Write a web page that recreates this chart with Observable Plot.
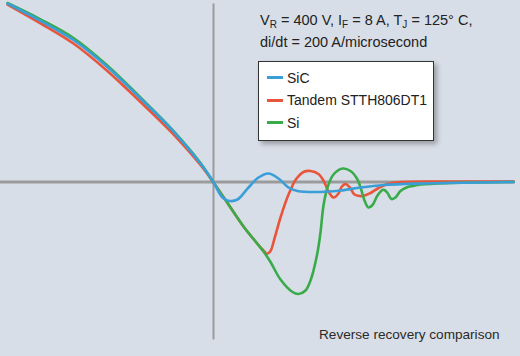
<!DOCTYPE html>
<html>
<head>
<meta charset="utf-8">
<script src="https://cdn.jsdelivr.net/npm/d3@7"></script>
<script src="https://cdn.jsdelivr.net/npm/@observablehq/plot@0.6"></script>
<style>
  html, body { margin: 0; padding: 0; background: #d8dee7; }
  #wrap { position: relative; width: 520px; height: 356px; background: #d8dee7; overflow: hidden;
          font-family: "Liberation Sans", Arial, sans-serif; color: #222; }
  #wrap svg { position: absolute; left: 0; top: 0; background: transparent; }
  .note { position: absolute; left: 260px; font-size: 14.5px; line-height: 22px; white-space: nowrap; }
  .note sub { font-size: 10px; vertical-align: -3px; line-height: 0; }
  #legend { position: absolute; left: 258px; top: 61px; width: 174px; height: 78px; background: #fff;
            border: 1.5px solid #333; box-shadow: 3px 3px 5px rgba(0,0,0,0.3); }
  .item { position: absolute; left: 8px; font-size: 14px; line-height: 18px; white-space: nowrap; }
  .sw { display: inline-block; width: 16px; height: 3px; vertical-align: middle; margin-right: 4px; position: relative; top: -1px; }
  #caption { position: absolute; left: 319px; top: 325px; font-size: 13.6px; line-height: 20px; color: #2a2a2a; white-space: nowrap; }
</style>
</head>
<body>
<div id="wrap"></div>
<script>
// Series names and colours
const seriesNames = ["SiC", "Tandem STTH806DT1", "Si"];
const seriesColors = ["#3a9fd8", "#e8553a", "#3aab4a"];

// Time (ns) and current (A)
const sicT = [-51.5, -43.25, -35, -26.75, -18.5, -10.25, -3.25, -0.25, 2.25, 4, 6, 8.75, 11.25, 13.75, 16.25, 18.75, 21, 25.5, 31.75, 36.75, 42.5, 51.75, 75];
const sicI = [8.925, 8.06, 7.1, 5.79, 4.225, 2.585, 0.925, 0.075, -0.775, -0.95, -0.875, -0.275, 0.225, 0.425, 0.175, -0.275, -0.45, -0.5, -0.425, -0.275, -0.15, -0.075, 0];

const tandemT = [-51.5, -43.25, -35, -26.75, -18.5, -10.25, -3.25, 0, 3.75, 7.5, 10.5, 12.25, 13.375, 14.25, 15.25, 16.75, 18.75, 20.75, 22.5, 24.25, 26.25, 27.5, 28.75, 30, 31.25, 32, 33, 34, 35.25, 37.25, 39.25, 41.25, 43.5, 46.75, 59.25, 75];
const tandemI = [8.875, 7.935, 6.925, 5.59, 4.05, 2.435, 0.85, -0.025, -1.125, -2.225, -2.975, -3.375, -3.59, -3.45, -2.825, -1.775, -0.625, 0.175, 0.5, 0.55, 0.4, 0.075, -0.475, -0.775, -0.575, -0.25, -0.1, -0.25, -0.625, -0.7, -0.55, -0.3, -0.1, 0, 0.025, 0.025];

const siT = [-51.5, -43.25, -35, -26.75, -18.5, -10.25, -3.25, 0, 3.75, 7.5, 10.5, 12.5, 14.25, 16.75, 19.75, 21.25, 23, 24.25, 25, 26, 26.75, 27.5, 28.5, 30, 32.25, 34.25, 36, 37, 37.75, 38.75, 39.75, 41, 42.25, 42.75, 43.5, 44.5, 45.5, 46.75, 48.25, 49.75, 51.75, 59.25, 75];
const siI = [8.95, 8.135, 7.2, 5.865, 4.275, 2.61, 0.95, -0.025, -1.125, -2.225, -2.975, -3.475, -4.0, -4.875, -5.5, -5.6, -5.425, -4.925, -4.425, -3.525, -2.525, -1.175, -0.275, 0.375, 0.675, 0.55, 0.125, -0.425, -0.925, -1.275, -1.15, -0.675, -0.4, -0.4, -0.55, -0.85, -0.775, -0.45, -0.275, -0.2, -0.125, -0.05, 0];

const build = (name, T, I) => T.map((t, i) => ({series: name, t, i: I[i]}));
const rows = [
  ...build(seriesNames[1], tandemT, tandemI),
  ...build(seriesNames[2], siT, siI),
  ...build(seriesNames[0], sicT, sicI)
];

const chart = Plot.plot({
  width: 520,
  height: 356,
  margin: 0,
  style: {background: "transparent"},
  x: {domain: [-53.25, 76.75], axis: null},
  y: {domain: [-8.725, 9.075], axis: null},
  color: {domain: seriesNames, range: seriesColors},
  marks: [
    Plot.ruleY([0], {x1: -53.25, x2: 75.5, stroke: "#9b9b9b", strokeWidth: 3}),
    Plot.ruleX([0], {y1: 8.9, y2: -7.9, stroke: "#9b9b9b", strokeWidth: 2}),
    Plot.line(rows, {x: "t", y: "i", z: "series", stroke: "series", strokeWidth: 2.6, curve: "catmull-rom"})
  ]
});

const wrap = document.getElementById("wrap");
wrap.appendChild(chart);

const n1 = document.createElement("div");
n1.className = "note"; n1.style.top = "9px";
n1.innerHTML = "V<sub>R</sub> = 400 V, I<sub>F</sub> = 8 A, T<sub>J</sub> = 125° C,";
wrap.appendChild(n1);
const n2 = document.createElement("div");
n2.className = "note"; n2.style.top = "31px";
n2.textContent = "di/dt = 200 A/microsecond";
wrap.appendChild(n2);

const legend = document.createElement("div");
legend.id = "legend";
seriesNames.forEach((name, k) => {
  const it = document.createElement("div");
  it.className = "item";
  it.style.top = (6.5 + k * 22.5) + "px";
  it.innerHTML = `<span class="sw" style="background:${seriesColors[k]}"></span>${name}`;
  legend.appendChild(it);
});
wrap.appendChild(legend);

const cap = document.createElement("div");
cap.id = "caption";
cap.textContent = "Reverse recovery comparison";
wrap.appendChild(cap);
</script>
</body>
</html>
